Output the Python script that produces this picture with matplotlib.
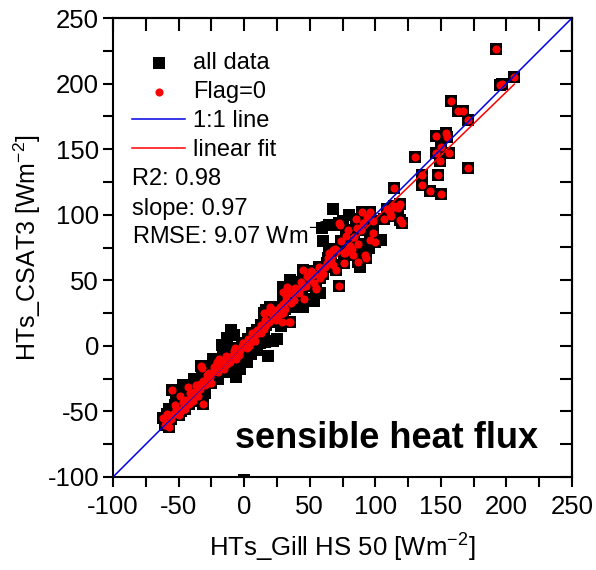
import matplotlib
matplotlib.use("Agg")
import matplotlib.pyplot as plt
from matplotlib.ticker import MultipleLocator
import numpy as np

plt.rcParams['font.family'] = ['Liberation Sans', 'DejaVu Sans']
plt.rcParams['mathtext.fontset'] = 'custom'
plt.rcParams['mathtext.rm'] = 'Liberation Sans'
plt.rcParams['axes.unicode_minus'] = False

# points with Flag=0 (red)
flag0_x = [192, 206, 197, 195, 158, 163, 167, 171, 146, 154, 155, 150, 146, 156, 149, 130,
           171, 136, 148, 136, 142, 150, 114, 114, 117, 119,
           107, 109, 111, 114, 117, 119, 120, 117, 112,
           90, 96, 98, 91, 98, 100, 92, 93, 87, 83, 96, 84, 89,
           72, 79, 76, 70, 68, 64, 76, 87, 70, 62, 73, 79, 65, 69, 77, 81, 63, 72,
           45, 53, 53, 44, 40, 43, 58, 55, 46, 55, 50, 48,
           35, 30, 32, 38, 27, 32, 37, 33, 30, 34, 35, 29,
           20, 22, 15, 13, 30, 18, 24, 27, 17, 12, 20, 15,
           7, 5, -5, -6, -11, 0, 2, -3, 9, -8, 3, -1,
           -17, -21, -22, -27, -32, -12, -18, -24, -26, -29, -21, -14, -19, -15,
           -34, -36, -40, -44, -43, -31, -33, -38, -42, -35, -30,
           -55, -49, -46, -54, -50, -62, -57, -52, -58, -48, -60,
           -59, -56, -53, -47, -45, -41, -39,
           -37, -34, -31, -28, -25, -23, -20,
           -16, -13, -9, -7, -4, -2,
           4, 6, 8, 10, 13, 16, 19,
           23, 25, 28, 31, 36, 39,
           42, 47, 51, 57, 60, 66, 68,
           74, 78, 82, 86, 94, 85]
flag0_y = [226, 205, 200, 199, 187, 179, 179, 172, 160, 162, 159, 152, 147, 147, 141, 144,
           136, 130, 130, 123, 118, 116, 120, 107, 106, 108,
           97, 104, 101, 106, 107, 96, 94, 105, 99,
           102, 102, 95, 94, 86, 79, 69, 67, 78, 69, 81, 83, 88,
           94, 73, 71, 73, 73, 67, 63, 64, 58, 60, 92, 88, 71, 74, 71, 76, 63, 46,
           58, 55, 48, 45, 43, 49, 52, 44, 36, 43, 50, 53,
           40, 41, 35, 35, 30, 38, 40, 45, 32, 18, 18, 18,
           30, 22, 25, 16, 25, 26, 20, 24, 16, 12, 27, 13,
           7, 3, -6, -10, -12, 0, -2, -3, 9, -4, 5, 2,
           -15, -13, -18, -21, -17, -10, -16, -20, -24, -26, -12, -8, -10, -18,
           -29, -34, -39, -41, -31, -44, -15, -35, -44, -38, -30,
           -34, -38, -46, -52, -53, -55, -62, -48, -58, -50, -60,
           -52, -56, -45, -43, -48, -36, -42,
           -30, -33, -27, -22, -28, -16, -20,
           -12, -14, -8, -2, -7, 0,
           0, 10, 4, 12, 10, 20, 18,
           27, 22, 30, 28, 33, 44,
           40, 46, 57, 60, 55, 66, 62,
           80, 84, 74, 90, 98, 97]

# points flagged out (only in "all data")
other_x = [-10, -17, -6, -3, 16, -2, 25, 22, -16, 18, 17, 59, 68, 80, 65, 104, 53, 0,
           -8, -13, 10, -4, 88, -47, -20, 40, 2, -38,
           -52, -30, -24, -12, 5, 12, 28, 45, 58, 35, 60, 75, 95, -57, 30]
other_y = [12, 1, -24, -18, 3, -7, 5, 4, -3, -8, 27, 90, 104, 100, 92, 81, 34, -102,
           8, 6, -3, -14, 60, -30, -25, 30, -12, -25,
           -40, -36, -10, -20, -6, 2, 15, 30, 40, 50, 80, 95, 75, -48, 45]

all_x = flag0_x + other_x
all_y = flag0_y + other_y

fit_slope = 0.97
fit_intercept = -0.3
fit_range = [-62, 206]
axis_range = [-100, 250]

fig = plt.figure(figsize=(5.96, 5.70), dpi=100)
ax = fig.add_axes([113 / 596, 93 / 570, 459 / 596, 459 / 570])

ax.scatter(all_x, all_y, marker='s', s=78, color='black', linewidths=0,
           label='all data', zorder=2)
ax.scatter(flag0_x, flag0_y, marker='o', s=34, color='red', linewidths=0,
           label='Flag=0', zorder=3)
ax.plot(axis_range, axis_range, color='#0000e0', lw=1.1, label='1:1 line', zorder=4)
fx = np.array(fit_range)
ax.plot(fx, fit_slope * fx + fit_intercept, color='red', lw=1.1, label='linear fit', zorder=4)

ax.set_xlim(axis_range)
ax.set_ylim(axis_range)
ax.xaxis.set_major_locator(MultipleLocator(50))
ax.yaxis.set_major_locator(MultipleLocator(50))
ax.xaxis.set_minor_locator(MultipleLocator(25))
ax.yaxis.set_minor_locator(MultipleLocator(25))
ax.tick_params(which='both', direction='out', length=7, width=1.5, labelsize=18.5)
ax.tick_params(axis='x', pad=6)
ax.tick_params(axis='y', pad=3)
for s in ax.spines.values():
    s.set_linewidth(1.5)

# inner ticks on top and right
top = ax.secondary_xaxis('top')
right = ax.secondary_yaxis('right')
for sec, loc in ((top, 'x'), (right, 'y')):
    a = sec.xaxis if loc == 'x' else sec.yaxis
    a.set_major_locator(MultipleLocator(25))
    sec.tick_params(direction='in', length=9, width=1.5, labelleft=False,
                    labelright=False, labeltop=False, labelbottom=False)
    for s in sec.spines.values():
        s.set_linewidth(1.5)

ax.set_xlabel('HTs_Gill HS 50 [Wm$^{-2}$]', fontsize=18.5, labelpad=8)
ax.set_ylabel('HTs_CSAT3 [Wm$^{-2}$]', fontsize=18, labelpad=3)

leg = ax.legend(loc='upper left', bbox_to_anchor=(19 / 459, 425 / 459),
                frameon=False, fontsize=17, borderpad=0, borderaxespad=0,
                handlelength=2.25, handletextpad=0.35, labelspacing=0.3,
                scatterpoints=1)

stats = ['R2: 0.98', 'slope: 0.97', 'RMSE: 9.07 Wm$^{-2}$']
for i, t in enumerate(stats):
    ax.text(19 / 459, (477 - 185 - 29.5 * i) / 459, t, transform=ax.transAxes,
            fontsize=17, va='baseline', ha='left', zorder=10)

ax.text(0.595, 29 / 459, 'sensible heat flux', transform=ax.transAxes,
        fontsize=26, fontweight='bold', ha='center', va='baseline', zorder=10)

fig.savefig('out.png', dpi=100)
